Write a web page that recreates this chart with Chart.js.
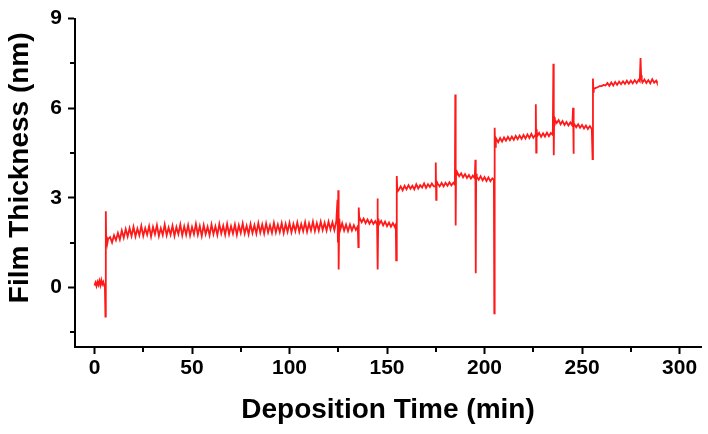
<!DOCTYPE html>
<html>
<head>
<meta charset="utf-8">
<script src="https://cdn.jsdelivr.net/npm/chart.js@4/dist/chart.umd.min.js"></script>
<style>
  html, body { margin: 0; padding: 0; background: #fff; }
  #wrap { width: 708px; height: 434px; }
</style>
</head>
<body>
<div id="wrap"><canvas id="c" width="708" height="434"></canvas></div>
<script>
// ---- data ----
const xTitle = 'Deposition Time (min)';
const yTitle = 'Film Thickness (nm)';
const xTickLabels = [0, 50, 100, 150, 200, 250, 300];
const xMinorTicks = [25, 75, 125, 175, 225, 275];
const yTickLabels = [0, 3, 6, 9];
const yMinorTicks = [-1.5, 1.5, 4.5, 7.5];

const timeMin = [
  0,0.5,1,1.5,2,2.5,3,3.5,4,4.5,
  5,5.3,5.6,5.8,6,6.3,6.6,7,
  8,9,10,11,12,13,14,15,16,17,
  18,19,20,21,22,23,24,25,26,27,
  28,29,30,31,32,33,34,35,36,37,
  38,39,40,41,42,43,44,45,46,47,
  48,49,50,51,52,53,54,55,56,57,
  58,59,60,61,62,63,64,65,66,67,
  68,69,70,71,72,73,74,75,76,77,
  78,79,80,81,82,83,84,85,86,87,
  88,89,90,91,92,93,94,95,96,97,
  98,99,100,101,102,103,104,105,106,107,
  108,109,110,111,112,113,114,115,116,117,
  118,119,120,121,122,123,124,
  124.6,124.8,125,125.2,125.5,126,127,128,129,130,
  131,132,133,134,135,135.3,135.5,135.8,136,137,
  138,139,140,141,142,143,144,144.9,145.1,145.3,
  145.5,146,147,148,149,150,151,152,153,154,
  154.5,154.7,155,155.3,156,157,158,159,160,161,
  162,163,164,165,166,167,168,169,170,171,
  172,173,174,174.8,175,175.2,175.4,176,177,178,
  179,180,181,182,183,184,184.8,185,185.2,185.4,
  185.8,186,187,188,189,190,191,192,193,194,
  195,195.3,195.5,195.7,196,197,198,199,200,201,
  202,203,204,204.8,205,205.2,205.4,205.8,206,207,
  208,209,210,211,212,213,214,215,216,217,
  218,219,220,221,222,223,224,225,226,226.3,
  226.5,226.7,227,228,229,230,231,232,233,234,
  235,235.3,235.5,235.7,236,237,238,239,240,241,
  242,243,244,245,245.4,245.6,245.8,246,247,248,
  249,250,251,252,253,254,255,255.4,255.6,255.8,
  256,257,258,259,260,261,262,263,264,265,
  266,267,268,269,270,271,272,273,274,275,
  276,277,278,279,279.6,280,280.3,280.6,281,282,
  283,284,285,286,287,288,288.4
];

const thicknessNm = [
  0.06,0.16,0.04,0.18,0.08,0.22,0.07,0.24,0.1,0.18,
  0.05,0.12,-0.98,2.55,1.45,1.7,1.48,1.62,
  1.68,1.5,1.74,1.58,1.82,1.6,1.9,1.66,1.95,1.7,
  1.98,1.72,2.02,1.7,1.96,1.74,2.06,1.72,1.98,1.76,
  2.05,1.7,2.02,1.78,2.08,1.72,1.98,1.75,2.1,1.74,
  2.0,1.76,2.06,1.72,2.02,1.78,2.1,1.74,2.04,1.76,
  2.08,1.73,2.02,1.78,2.12,1.76,2.05,1.72,2.08,1.78,
  2.03,1.74,2.1,1.78,2.04,1.75,2.12,1.8,2.06,1.76,
  2.12,1.78,2.05,1.8,2.1,1.76,2.08,1.82,2.14,1.8,
  2.06,1.78,2.12,1.82,2.08,1.8,2.15,1.83,2.1,1.8,
  2.14,1.84,2.08,1.82,2.16,1.84,2.1,1.85,2.15,1.82,
  2.12,1.86,2.16,1.84,2.12,1.88,2.17,1.86,2.12,1.88,
  2.18,1.86,2.14,1.9,2.2,1.88,2.15,1.9,2.2,1.92,
  2.16,1.9,2.2,1.94,2.18,1.92,2.22,
  2.93,1.5,3.25,0.6,2.3,1.92,2.14,1.9,2.1,1.88,
  2.1,1.9,2.08,1.92,2.04,1.35,2.67,2.25,2.32,2.18,
  2.3,2.15,2.27,2.13,2.25,2.12,2.22,2.1,2.97,0.6,
  2.3,2.12,2.22,2.07,2.2,2.05,2.17,2.03,2.15,2.02,
  2.1,0.9,3.73,3.2,3.26,3.38,3.25,3.4,3.28,3.42,
  3.3,3.4,3.28,3.45,3.31,3.42,3.34,3.48,3.33,3.45,
  3.36,3.48,3.38,3.38,4.18,2.93,3.55,3.47,3.38,3.5,
  3.38,3.5,3.4,3.52,3.41,3.5,3.44,6.46,2.07,3.9,
  3.75,3.85,3.72,3.82,3.68,3.79,3.66,3.76,3.64,3.74,
  3.65,4.27,0.47,3.8,3.7,3.6,3.72,3.58,3.69,3.56,
  3.68,3.55,3.65,3.6,-0.87,5.34,4.7,4.9,4.98,4.86,
  5.0,4.88,5.02,4.91,5.04,4.93,5.05,4.94,5.07,4.96,
  5.08,4.97,5.1,4.98,5.12,5.0,5.14,5.01,5.1,6.13,
  4.51,5.3,5.06,5.17,5.04,5.16,5.05,5.18,5.06,5.17,
  5.1,7.49,4.42,5.7,5.62,5.5,5.6,5.46,5.57,5.44,
  5.54,5.42,5.52,5.42,6.01,4.47,5.5,5.47,5.36,5.46,
  5.34,5.44,5.32,5.42,5.3,5.4,5.3,4.29,6.99,6.55,
  6.64,6.68,6.7,6.74,6.74,6.78,6.76,6.84,6.75,6.86,
  6.76,6.88,6.78,6.89,6.8,6.9,6.81,6.92,6.82,6.92,
  6.83,6.94,6.84,6.95,6.9,7.68,7.1,6.95,6.86,6.96,
  6.84,6.94,6.83,6.97,6.85,6.92,6.86
];

const points = timeMin.map((t, i) => ({ x: t, y: thicknessNm[i] }));

const FONT = '"Liberation Sans", Arial, sans-serif';

const axisDecor = {
  id: 'axisDecor',
  afterDraw(chart) {
    const { ctx, scales: { x, y }, chartArea: a } = chart;
    ctx.save();
    ctx.strokeStyle = '#000';
    ctx.lineWidth = 2;
    ctx.beginPath();
    xMinorTicks.forEach(v => {
      const px = Math.round(x.getPixelForValue(v));
      ctx.moveTo(px, a.bottom);
      ctx.lineTo(px, a.bottom + 5);
    });
    yMinorTicks.forEach(v => {
      const py = Math.round(y.getPixelForValue(v));
      ctx.moveTo(a.left, py);
      ctx.lineTo(a.left - 5, py);
    });
    ctx.stroke();

    ctx.fillStyle = '#000';
    ctx.font = 'bold 28px ' + FONT;
    ctx.textAlign = 'center';
    ctx.textBaseline = 'alphabetic';
    ctx.fillText(xTitle, (a.left + a.right) / 2, a.bottom + 71);
    ctx.translate(a.left - 47, (a.top + a.bottom) / 2 - 15);
    ctx.rotate(-Math.PI / 2);
    ctx.fillText(yTitle, 0, 0);
    ctx.restore();
  }
};

new Chart(document.getElementById('c'), {
  type: 'line',
  data: {
    datasets: [{
      data: points,
      borderColor: '#ff1a1a',
      borderWidth: 1.8,
      pointRadius: 0,
      tension: 0,
      fill: false
    }]
  },
  options: {
    responsive: false,
    animation: false,
    devicePixelRatio: 1,
    layout: { padding: { top: 17, right: 7, left: 0, bottom: 0 } },
    plugins: { legend: { display: false }, tooltip: { enabled: false } },
    scales: {
      x: {
        type: 'linear',
        min: -10,
        max: 311,
        afterBuildTicks: s => { s.ticks = xTickLabels.map(v => ({ value: v })); },
        afterFit: s => { s.height = 87; },
        border: { display: true, color: '#000', width: 2 },
        grid: { drawOnChartArea: false, drawTicks: true, tickLength: 7, tickWidth: 2, tickColor: '#000', color: '#000' },
        ticks: { color: '#000', padding: 2, maxRotation: 0, font: { family: FONT, size: 21, weight: 'bold' } }
      },
      y: {
        type: 'linear',
        min: -2,
        max: 9,
        afterBuildTicks: s => { s.ticks = yTickLabels.map(v => ({ value: v })); },
        afterFit: s => { s.width = 75; },
        border: { display: true, color: '#000', width: 2 },
        grid: { drawOnChartArea: false, drawTicks: true, tickLength: 7, tickWidth: 2, tickColor: '#000', color: '#000' },
        ticks: { color: '#000', padding: 6, font: { family: FONT, size: 21, weight: 'bold' } }
      }
    }
  },
  plugins: [axisDecor]
});
</script>
</body>
</html>
